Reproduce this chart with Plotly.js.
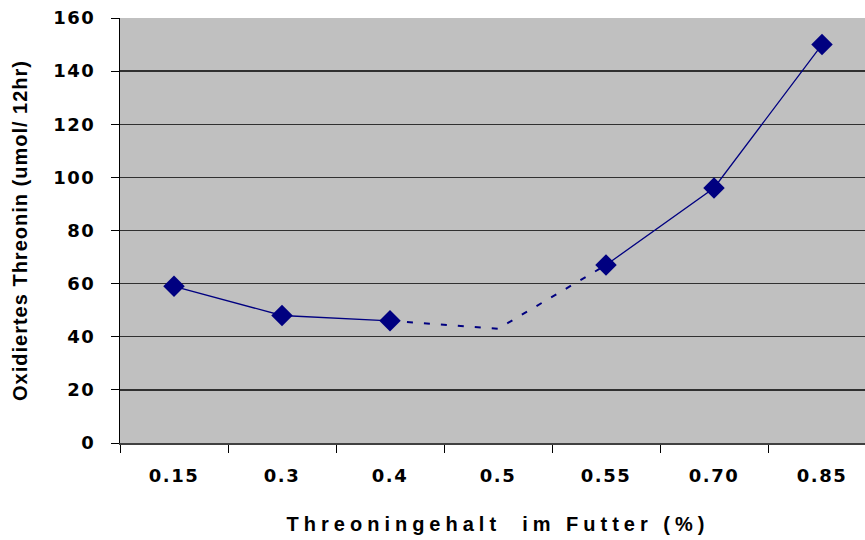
<!DOCTYPE html>
<html>
<head>
<meta charset="utf-8">
<script src="https://cdn.plot.ly/plotly-3.0.1.min.js"></script>
<style>
  html, body { margin: 0; padding: 0; background: #ffffff; overflow: hidden; }
  #chart { width: 880px; height: 540px; }
  .xtick text, .ytick text { letter-spacing: 1.5px; }
  .xtitle { letter-spacing: 5px; white-space: pre; }
  .ytitle { letter-spacing: 1px; }
</style>
</head>
<body>
<div id="chart"></div>
<script>
// Threonine content of the feed (%) and oxidised threonine (umol / 12 hr)
const categories = ['0.15', '0.3', '0.4', '0.5', '0.55', '0.70', '0.85'];
const oxidised = [59, 48, 46, 43, 67, 96, 150];
const measured = [true, true, true, false, true, true, true];
const yTicks = [0, 20, 40, 60, 80, 100, 120, 140, 160];

const navy = '#000080';

// the 0.5 value is an estimate: it is joined by a dashed line and has no marker
const firstIdx = [0, 1, 2];
const dashIdx = [2, 3, 4];
const lastIdx = [4, 5, 6];
const pick = (arr, idx) => idx.map(i => arr[i]);

const solidStyle = (idx) => ({
  type: 'scatter',
  mode: 'lines+markers',
  x: pick(categories, idx),
  y: pick(oxidised, idx),
  line: { color: navy, width: 1.3 },
  marker: { symbol: 'diamond', size: 16.5, color: navy, line: { width: 0 } },
  hoverinfo: 'x+y',
  showlegend: false
});

const traces = [
  {
    type: 'scatter',
    mode: 'lines',
    x: pick(categories, dashIdx),
    y: pick(oxidised, dashIdx),
    line: { color: navy, width: 2, dash: '6px,11px' },
    hoverinfo: 'x+y',
    showlegend: false
  },
  solidStyle(firstIdx.filter(i => measured[i])),
  solidStyle(lastIdx.filter(i => measured[i]))
];

const tickFont = { family: 'DejaVu Sans, sans-serif', size: 18, color: '#000000', weight: 'bold' };

const layout = {
  width: 880,
  height: 540,
  margin: { l: 120, r: 4, t: 18, b: 97 },
  paper_bgcolor: '#ffffff',
  plot_bgcolor: '#c0c0c0',
  xaxis: {
    type: 'category',
    categoryorder: 'array',
    categoryarray: categories,
    range: [-0.5, categories.length - 0.5],
    tickson: 'boundaries',
    ticks: 'outside',
    ticklen: 8,
    tickwidth: 1,
    tickcolor: '#000000',
    showgrid: false,
    showline: true,
    linecolor: '#404040',
    linewidth: 1.5,
    tickfont: tickFont,
    ticklabelstandoff: 16,
    title: {
      text: 'Threoningehalt\u00a0 im Futter (%)',
      font: { family: 'Liberation Sans, Arial, sans-serif', size: 20, color: '#000000', weight: 'bold' },
      standoff: 32
    },
    fixedrange: true
  },
  yaxis: {
    range: [0, 160],
    tickvals: yTicks,
    ticktext: yTicks.map(String),
    ticks: 'outside',
    ticklen: 8,
    tickwidth: 1,
    tickcolor: '#000000',
    showgrid: true,
    gridcolor: '#303030',
    gridwidth: 1.3,
    zeroline: false,
    showline: true,
    linecolor: '#000000',
    linewidth: 1,
    tickfont: tickFont,
    ticklabelstandoff: 12,
    title: {
      text: 'Oxidiertes Threonin (umol/ 12hr)',
      font: { family: 'Liberation Sans, Arial, sans-serif', size: 20, color: '#000000', weight: 'bold' },
      standoff: 20
    },
    fixedrange: true
  }
};

Plotly.newPlot('chart', traces, layout, { displayModeBar: false, staticPlot: true });
</script>
</body>
</html>
